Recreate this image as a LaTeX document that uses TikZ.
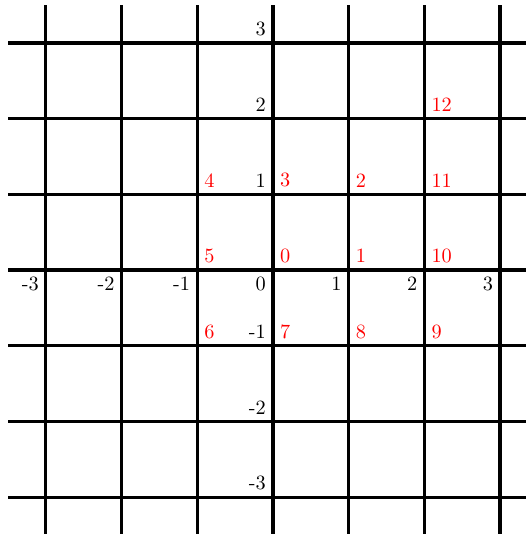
\documentclass[tikz,border=0pt]{standalone}
\begin{document}
\begin{tikzpicture}[x=37.3pt,y=37.3pt,
  gridline/.style={line width=1.6pt},
  axlab/.style={inner sep=0.333em},
  spiral/.style={text=red,anchor=south west,inner sep=0.333em}]
\useasboundingbox (-3.606,-3.487) rectangle (3.342,3.567);
\foreach \i in {-3,...,3} {
  \draw[gridline] (\i,-3.5) -- (\i,3.5);
  \draw[gridline] (-3.5,\i) -- (3.5,\i);
}
\foreach \i in {-3,...,3} {
  \node[axlab,anchor=north east] (x\i) at (\i,0) {\i};
}
\foreach \i in {-3,-2,-1,1,2,3} {
  \node[axlab,anchor=south east] (y\i) at (0,\i) {\i};
}
\node[spiral] (s0) at (0,0) {0};
\node[spiral] (s1) at (1,0) {1};
\node[spiral] (s2) at (1,1) {2};
\node[spiral] (s3) at (0,1) {3};
\node[spiral] (s4) at (-1,1) {4};
\node[spiral] (s5) at (-1,0) {5};
\node[spiral] (s6) at (-1,-1) {6};
\node[spiral] (s7) at (0,-1) {7};
\node[spiral] (s8) at (1,-1) {8};
\node[spiral] (s9) at (2,-1) {9};
\node[spiral] (s10) at (2,0) {10};
\node[spiral] (s11) at (2,1) {11};
\node[spiral] (s12) at (2,2) {12};
\end{tikzpicture}
\end{document}
